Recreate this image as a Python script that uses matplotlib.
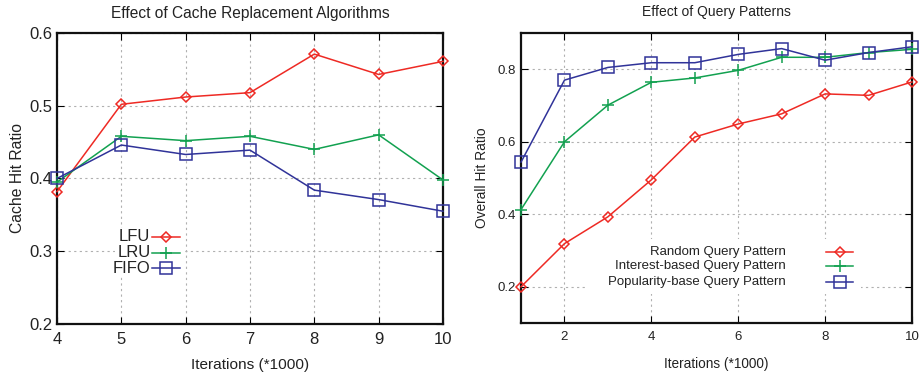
import numpy as np
import matplotlib
matplotlib.use("Agg")
import matplotlib.pyplot as plt

plt.rcParams['font.family'] = ['Liberation Sans', 'DejaVu Sans']

#### left panel data ####
iters_left = [4, 5, 6, 7, 8, 9, 10]
lfu = [0.382, 0.502, 0.512, 0.518, 0.571, 0.543, 0.561]
lru = [0.395, 0.458, 0.452, 0.458, 0.440, 0.460, 0.398]
fifo = [0.400, 0.446, 0.433, 0.439, 0.384, 0.371, 0.355]
left_names = ["LFU", "LRU", "FIFO"]

#### right panel data ####
iters_right = [1, 2, 3, 4, 5, 6, 7, 8, 9, 10]
random_q = [0.200, 0.319, 0.393, 0.495, 0.613, 0.649, 0.677, 0.732, 0.728, 0.765]
interest_q = [0.413, 0.600, 0.701, 0.764, 0.776, 0.797, 0.833, 0.833, 0.846, 0.855]
popular_q = [0.544, 0.770, 0.805, 0.818, 0.818, 0.841, 0.857, 0.825, 0.846, 0.862]
right_names = ["Random Query Pattern", "Interest-based Query Pattern",
               "Popularity-base Query Pattern"]

RED = '#ee2a24'
GREEN = '#12a150'
BLUE = '#303399'
TXT = '#222222'
styles = [(RED, 'D', 5.5), (GREEN, '+', 9), (BLUE, 's', 8)]


def gnuplot_axes(ax, tick_size):
    ax.grid(True, color='#b0b0b0', linestyle=(0, (2, 3)), linewidth=0.8)
    ax.set_axisbelow(True)
    for s in ax.spines.values():
        s.set_linewidth(1.6)
        s.set_color('#111111')
    ax.tick_params(direction='in', top=True, right=True, length=5, width=0.8,
                   labelsize=tick_size, labelcolor=TXT)


def draw_series(ax, x, ys):
    for y, (c, m, ms) in zip(ys, styles):
        ax.plot(x, y, color=c, marker=m, markersize=ms, markerfacecolor='none',
                markeredgecolor=c, markeredgewidth=1.1, linewidth=1.1, clip_on=False, zorder=3)


def draw_key(ax, names, text_x, line_x0, line_x1, ys, fontsize, box):
    # white key box like gnuplot, hides the grid behind the labels
    ax.add_patch(plt.Rectangle((box[0], box[1]), box[2], box[3], transform=ax.transAxes,
                               facecolor='white', edgecolor='none', zorder=2))
    for name, yy, (c, m, ms) in zip(names, ys, styles):
        ax.text(text_x, yy, name, transform=ax.transAxes, ha='right', va='center',
                fontsize=fontsize, color=TXT, zorder=4)
        ax.plot([line_x0, line_x1], [yy, yy], transform=ax.transAxes, color=c, linewidth=1.1, zorder=4)
        ax.plot([(line_x0 + line_x1) / 2], [yy], transform=ax.transAxes, color=c, marker=m,
                markersize=ms, markerfacecolor='none', markeredgecolor=c,
                markeredgewidth=1.1, zorder=4)


fig = plt.figure(figsize=(9.24, 3.78), dpi=100)

#### left ####
ax1 = fig.add_axes([0.0617, 0.1429, 0.4177, 0.7698])
draw_series(ax1, iters_left, [lfu, lru, fifo])
ax1.set_xlim(4, 10)
ax1.set_ylim(0.2, 0.6)
ax1.set_xticks(iters_left)
ax1.set_yticks([0.2, 0.3, 0.4, 0.5, 0.6])
gnuplot_axes(ax1, 12)
ax1.tick_params(axis='x', pad=6)
ax1.set_xlabel("Iterations (*1000)", fontsize=11.1, color=TXT, labelpad=8)
ax1.set_ylabel("Cache Hit Ratio", fontsize=11.3, color=TXT, labelpad=3)
ax1.set_title("Effect of Cache Replacement Algorithms", fontsize=11.2, color=TXT, pad=11)
draw_key(ax1, left_names, 0.242, 0.245, 0.318, [0.299, 0.245, 0.192], 12,
         (0.15, 0.16, 0.18, 0.17))

#### right ####
ax2 = fig.add_axes([0.5639, 0.1455, 0.4231, 0.7672])
draw_series(ax2, iters_right, [random_q, interest_q, popular_q])
ax2.set_xlim(1, 10)
ax2.set_ylim(0.1, 0.9)
ax2.set_xticks([2, 4, 6, 8, 10])
ax2.set_yticks([0.2, 0.4, 0.6, 0.8])
gnuplot_axes(ax2, 9.5)
ax2.tick_params(axis='x', pad=6)
ax2.set_xlabel("Iterations (*1000)", fontsize=9.8, color=TXT, labelpad=10)
ax2.set_ylabel("Overall Hit Ratio", fontsize=9.9, color=TXT, labelpad=6)
ax2.set_title("Effect of Query Patterns", fontsize=10, color=TXT, pad=12)
draw_key(ax2, right_names, 0.678, 0.78, 0.85, [0.245, 0.196, 0.142], 9.5,
         (0.17, 0.1, 0.7, 0.19))

fig.savefig("out.png", dpi=100)
